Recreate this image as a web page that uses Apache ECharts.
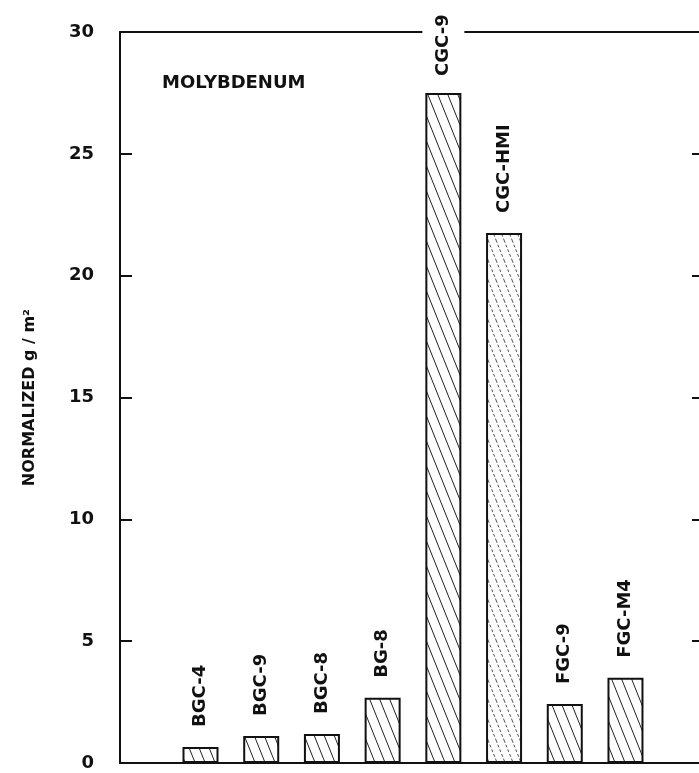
<!DOCTYPE html>
<html>
<head>
<meta charset="utf-8">
<script src="https://cdn.jsdelivr.net/npm/echarts@6/dist/echarts.min.js"></script>
<style>
html,body{margin:0;padding:0;background:#fff;}
#chart{width:699px;height:773px;}
</style>
</head>
<body>
<div id="chart"></div>
<script>
// ---- data ----
const categories = ['BGC-4', 'BGC-9', 'BGC-8', 'BG-8', 'CGC-9', 'CGC-HMI', 'FGC-9', 'FGC-M4'];
const values = [0.66, 1.11, 1.19, 2.68, 27.5, 21.75, 2.42, 3.5];
const yTicks = [0, 5, 10, 15, 20, 25, 30];
const titleText = 'MOLYBDENUM';
const yAxisName = 'NORMALIZED g / m\u00B2';

function makeHatch(w, h, color, lw, dash) {
  const c = document.createElement('canvas');
  c.width = w; c.height = h;
  const ctx = c.getContext('2d');
  ctx.fillStyle = '#fff';
  ctx.fillRect(0, 0, w, h);
  ctx.strokeStyle = color;
  ctx.lineWidth = lw;
  if (dash) ctx.setLineDash(dash);
  for (let k = -1; k <= 1; k++) {
    ctx.beginPath();
    ctx.moveTo(k * w, 0);
    ctx.lineTo(k * w + w, h);
    ctx.stroke();
  }
  return { image: c, repeat: 'repeat' };
}
const hatchA = makeHatch(10, 25, '#222', 1);
const hatchB = makeHatch(8, 20, '#555', 1, [3, 2]);

const FONT = 'DejaVu Sans';
const chart = echarts.init(document.getElementById('chart'), null, { renderer: 'canvas' });

const barData = values.map((v, i) => {
  const item = { value: [i, v], name: categories[i] };
  if (categories[i] === 'CGC-HMI') item.itemStyle = { color: hatchB };
  if (categories[i] === 'CGC-9') item.label = { backgroundColor: '#fff', padding: [12, 4, 12, 4], distance: 13 };
  return item;
});

chart.setOption({
  animation: false,
  backgroundColor: '#fff',
  grid: { left: 120, right: 0, top: 32, bottom: 10, containLabel: false },
  graphic: [{
    type: 'text', left: 162, top: 74, z: 10,
    style: { text: titleText, font: 'bold 18px "' + FONT + '"', fill: '#111' }
  }],
  xAxis: [{
    type: 'value', min: -1.326, max: 8.211, position: 'bottom',
    axisLine: { show: true, onZero: false, lineStyle: { color: '#111', width: 2 } },
    axisTick: { show: false }, axisLabel: { show: false }, splitLine: { show: false }
  }, {
    type: 'value', min: -1.326, max: 8.211, position: 'top',
    axisLine: { show: true, onZero: false, lineStyle: { color: '#111', width: 2 } },
    axisTick: { show: false }, axisLabel: { show: false }, splitLine: { show: false }
  }],
  yAxis: [{
    type: 'value', min: yTicks[0], max: yTicks[yTicks.length - 1], interval: 5, position: 'left',
    name: yAxisName, nameLocation: 'middle', nameGap: 82, nameRotate: 90,
    nameTextStyle: { fontFamily: FONT, fontWeight: 'bold', fontSize: 16, color: '#111' },
    axisLine: { show: true, onZero: false, lineStyle: { color: '#111', width: 2 } },
    axisTick: { show: true, inside: true, length: 12, lineStyle: { color: '#111', width: 2 } },
    axisLabel: { margin: 26, fontFamily: FONT, fontWeight: 'bold', fontSize: 18, color: '#111' },
    splitLine: { show: false }
  }, {
    type: 'value', min: yTicks[0], max: yTicks[yTicks.length - 1], interval: 5, position: 'right',
    axisLine: { show: false, onZero: false },
    axisTick: { show: true, inside: true, length: 7, lineStyle: { color: '#111', width: 2 } },
    axisLabel: { show: false }, splitLine: { show: false }
  }],
  series: [{
    type: 'bar',
    xAxisIndex: 0, yAxisIndex: 0,
    barWidth: 36,
    data: barData,
    itemStyle: { color: hatchA, borderColor: '#111', borderWidth: 2 },
    label: {
      show: true, position: 'top', distance: 20, rotate: 90,
      align: 'left', verticalAlign: 'middle',
      formatter: p => p.name,
      fontFamily: FONT, fontWeight: 'bold', fontSize: 18, color: '#111'
    }
  }]
});
</script>
</body>
</html>
